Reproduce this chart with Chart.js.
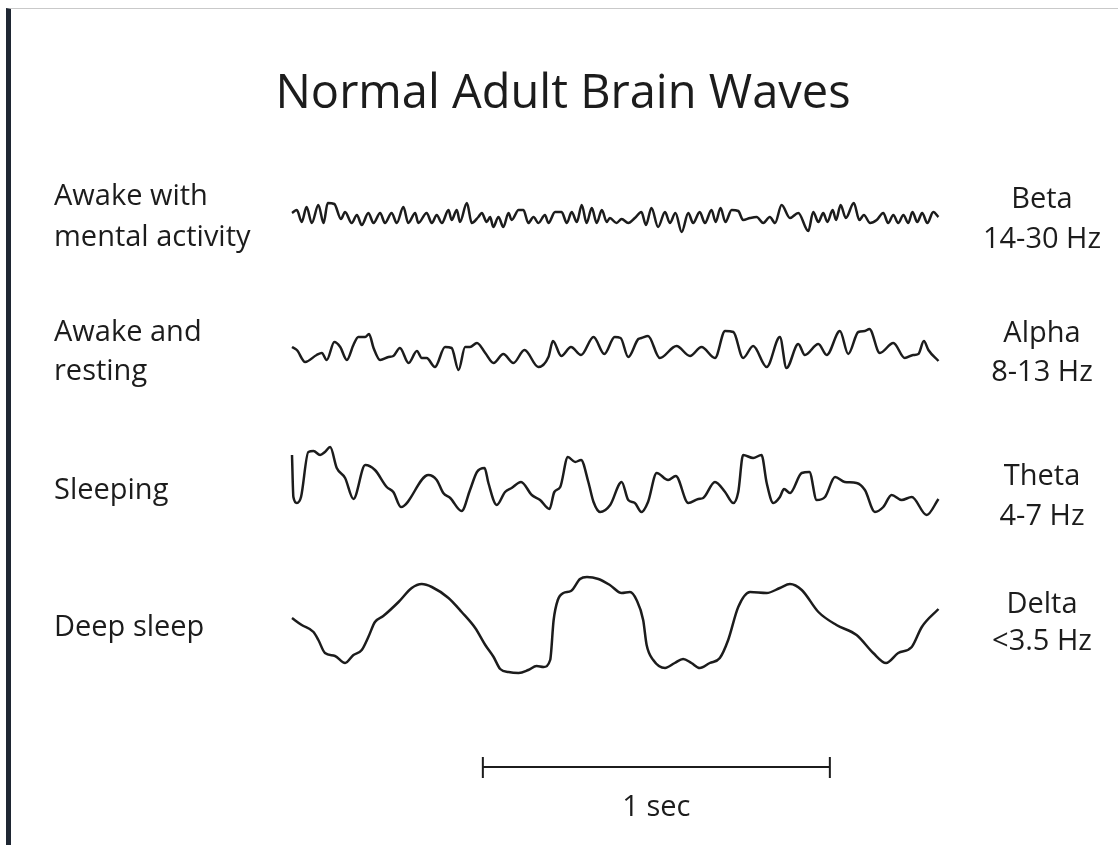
<!DOCTYPE html>
<html>
<head>
<meta charset="utf-8">
<title>Normal Adult Brain Waves</title>
<script src="https://cdn.jsdelivr.net/npm/chart.js@4/dist/chart.umd.min.js"></script>
<style>
	html, body { margin: 0; padding: 0; background: #fff; }
	#moldura { position: absolute; left: 6px; top: 8px; width: 1112px; height: 837px;
		border-top: 1px solid #c9c9c9; border-left: 5px solid #1f2733; box-sizing: border-box; }
	#grafico { position: absolute; left: 0; top: 0; }
</style>
</head>
<body>
<div id="moldura"></div>
<canvas id="grafico" width="1118" height="845"></canvas>
<script>
// traces: [time in ms, amplitude]
var betaWave = [[0,0],[14,3],[28,-9],[42,6],[57,-10],[76,8],[91,-10],[103,10],[122,9],[141,-6],[153,1],[172,-10],[187,-2],[201,-12],[220,0],[235,-10],[254,0],[268,-10],[287,0],[302,-10],[321,6],[335,-10],[355,0],[364,-10],[388,0],[403,-10],[417,-2],[432,-10],[451,3],[460,-7],[475,3],[484,-9],[504,10],[518,-10],[537,-4],[547,0],[561,-9],[571,-4],[580,-14],[595,-4],[609,-14],[624,0],[633,-7],[653,3],[667,3],[681,-10],[696,-4],[710,-10],[729,-2],[739,-10],[758,1],[777,1],[792,-10],[806,1],[821,-9],[835,8],[849,-10],[864,5],[878,-10],[893,3],[907,-9],[916,-5],[935,-10],[950,-6],[969,-10],[988,-5],[1007,1],[1020,-12],[1036,5],[1055,-14],[1075,1],[1089,-10],[1105,0],[1123,-19],[1142,0],[1156,-10],[1175,1],[1190,-10],[1209,3],[1221,-9],[1235,5],[1249,-9],[1267,3],[1286,2],[1300,-7],[1320,-5],[1339,-4],[1358,-10],[1377,-4],[1392,-10],[1411,8],[1435,-5],[1459,0],[1488,-18],[1502,1],[1517,-9],[1531,0],[1543,-9],[1558,3],[1568,-7],[1581,8],[1596,-5],[1619,10],[1635,-7],[1648,-2],[1666,-10],[1685,-7],[1704,0],[1718,-10],[1733,-2],[1747,-10],[1762,-2],[1776,-10],[1788,1],[1802,-9],[1816,0],[1831,-10],[1848,1],[1863,-4]];

var alphaWave = [[0,-4],[14,-7],[38,-19],[71,-12],[86,-10],[100,-17],[122,1],[139,-4],[158,-17],[177,-2],[191,6],[211,6],[222,9],[235,-5],[254,-17],[278,-14],[292,-13],[311,-5],[336,-20],[360,-8],[374,-15],[388,-15],[412,-24],[441,-4],[460,-5],[480,-27],[499,-4],[513,-4],[533,0],[557,-10],[581,-20],[609,-11],[638,-20],[670,-7],[710,-24],[739,-14],[752,2],[776,-13],[804,-4],[833,-12],[869,6],[900,-11],[930,6],[947,5],[969,-14],[998,4],[1007,5],[1026,7],[1060,-15],[1108,-3],[1147,-13],[1180,-4],[1219,-15],[1248,12],[1272,11],[1300,-15],[1329,-3],[1368,-24],[1406,6],[1425,-25],[1459,-1],[1478,-12],[1517,-1],[1541,-12],[1579,12],[1603,-11],[1632,11],[1651,12],[1664,14],[1694,-10],[1733,0],[1766,-15],[1790,-12],[1805,-11],[1821,2],[1834,-7],[1863,-18]];

var thetaWave = [[0,30],[4,-12],[14,-18],[26,-12],[47,33],[62,34],[81,30],[95,33],[110,38],[129,17],[153,7],[177,-14],[211,20],[239,15],[273,-2],[292,-7],[314,-22],[393,10],[417,5],[436,-8],[456,-13],[489,-26],[513,-5],[533,13],[555,17],[566,2],[590,-20],[614,-7],[633,-3],[660,3],[691,-10],[715,-15],[742,-24],[756,-7],[773,-2],[795,28],[816,23],[833,25],[854,3],[869,-17],[888,-27],[917,-20],[950,3],[969,-15],[988,-18],[1007,-27],[1026,-17],[1051,12],[1084,5],[1106,9],[1142,-18],[1171,-14],[1185,-13],[1219,3],[1248,-7],[1272,-18],[1286,-7],[1300,30],[1329,27],[1353,30],[1368,2],[1387,-18],[1406,-12],[1418,-4],[1435,-8],[1469,12],[1491,13],[1512,-15],[1536,-12],[1565,8],[1593,3],[1627,2],[1651,-5],[1680,-27],[1704,-22],[1728,-10],[1757,-15],[1786,-12],[1829,-30],[1863,-14]];

var deltaWave = [[0,2],[28,-5],[62,-12],[76,-20],[95,-33],[124,-36],[153,-43],[177,-35],[201,-30],[220,-17],[239,-2],[263,4],[307,18],[345,32],[374,36],[403,33],[451,22],[489,8],[528,-8],[557,-25],[581,-37],[600,-49],[624,-52],[653,-53],[681,-50],[705,-46],[725,-47],[744,-40],[754,0],[766,20],[782,27],[804,29],[830,41],[850,43],[883,41],[916,35],[950,27],[974,28],[993,20],[1012,0],[1022,-25],[1041,-40],[1075,-48],[1103,-43],[1127,-39],[1151,-43],[1175,-48],[1204,-43],[1233,-38],[1257,-20],[1286,13],[1320,28],[1368,27],[1406,32],[1435,36],[1469,30],[1517,8],[1569,-5],[1627,-15],[1675,-33],[1712,-43],[1747,-33],[1786,-27],[1815,-7],[1863,11]];

var titulo = 'Normal Adult Brain Waves';
var estados = [['Awake with', 'mental activity'], ['Awake and', 'resting'], ['Sleeping'], ['Deep sleep']];
var bandas = [['Beta', '14-30 Hz'], ['Alpha', '8-13 Hz'], ['Theta', '4-7 Hz'], ['Delta', '<3.5 Hz']];
var escala = [0.55, 1.55]; // 1 sec bar, seconds
var escalaTexto = '1 sec';

// layout
var ondas = [betaWave, alphaWave, thetaWave, deltaWave];
var faixas = [-213, -343, -485, -620];
var linhasEsq = [[197, 238], [333, 372], [491], [628]];
var linhasDir = [[200, 240], [334, 373], [477, 517], [605, 642]];
var fonte = '"Open Sans", "Noto Sans", sans-serif';
var tinta = '#1c1c1c';

var Ondas = (function() {

	function Ondas() {
		this.ctx = document.getElementById('grafico').getContext('2d');
	}

	Ondas.prototype.iniciar = function() {
		var datasets = ondas.map(function(onda, i) {
			return {
				data: onda.map(function(p) { return { x: p[0] / 1000, y: faixas[i] + p[1] }; }),
				borderColor: tinta,
				borderWidth: 2.5,
				pointRadius: 0,
				fill: false,
				cubicInterpolationMode: 'monotone'
			};
		});

		new Chart(this.ctx, {
			type: 'line',
			data: { datasets: datasets },
			options: {
				responsive: false,
				animation: false,
				layout: { padding: 0 },
				scales: {
					x: { type: 'linear', display: false, min: -292 / 347, max: 826 / 347 },
					y: { type: 'linear', display: false, min: -845, max: 0 }
				},
				plugins: { legend: { display: false }, tooltip: { enabled: false } }
			},
			plugins: [textos]
		});
	};

	var textos = {
		id: 'textos',
		afterDatasetsDraw: function(chart) {
			var ctx = chart.ctx;
			var sx = chart.scales.x, sy = chart.scales.y;
			ctx.save();
			ctx.fillStyle = tinta;
			ctx.strokeStyle = tinta;
			ctx.textBaseline = 'middle';

			ctx.font = '47px ' + fonte;
			ctx.textAlign = 'center';
			ctx.fillText(titulo, 563, 95);

			ctx.font = '29px ' + fonte;
			ctx.textAlign = 'left';
			estados.forEach(function(linhas, i) {
				linhas.forEach(function(t, j) { ctx.fillText(t, 54, linhasEsq[i][j]); });
			});
			ctx.textAlign = 'center';
			bandas.forEach(function(linhas, i) {
				linhas.forEach(function(t, j) { ctx.fillText(t, 1042, linhasDir[i][j]); });
			});

			// barra de 1 segundo
			var x0 = sx.getPixelForValue(escala[0]);
			var x1 = sx.getPixelForValue(escala[1]);
			var yb = sy.getPixelForValue(-767);
			ctx.lineWidth = 2;
			ctx.beginPath();
			ctx.moveTo(x0, yb); ctx.lineTo(x1, yb);
			ctx.moveTo(x0, yb - 10); ctx.lineTo(x0, yb + 11);
			ctx.moveTo(x1, yb - 10); ctx.lineTo(x1, yb + 11);
			ctx.stroke();
			ctx.fillText(escalaTexto, (x0 + x1) / 2, 808);
			ctx.restore();
		}
	};

	return Ondas;

}());

new Ondas().iniciar();
</script>
</body>
</html>
